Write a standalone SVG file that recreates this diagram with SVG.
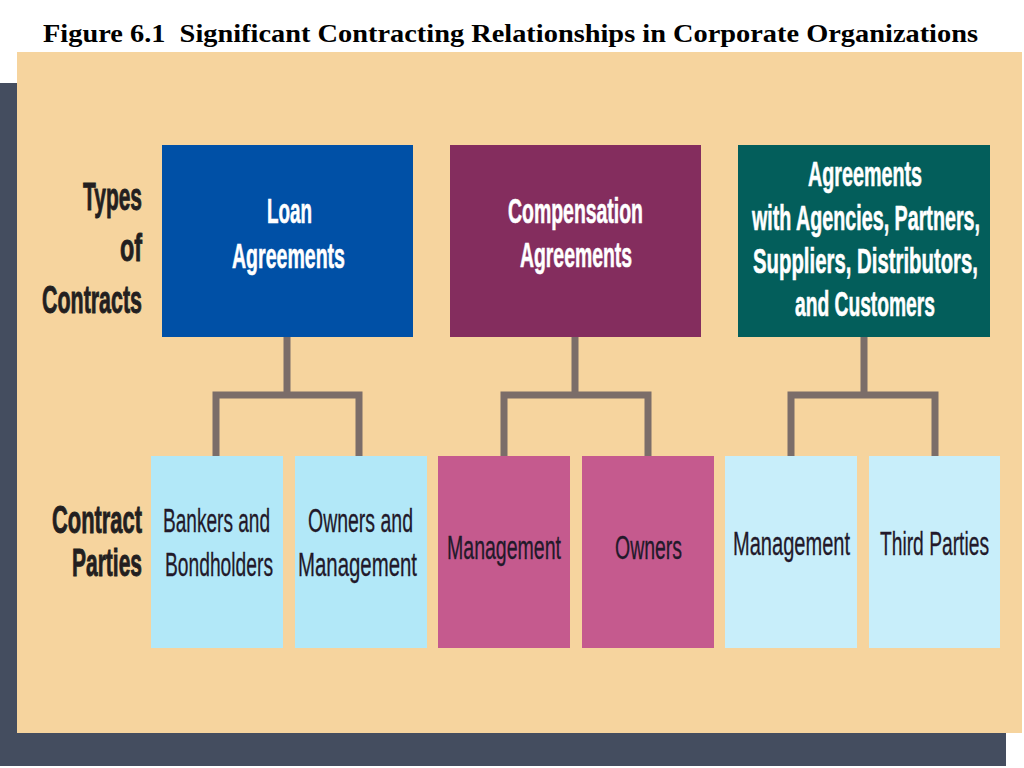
<svg xmlns="http://www.w3.org/2000/svg" width="1024" height="768" viewBox="0 0 1024 768">
<style>
.title{font-family:"Liberation Serif","Times New Roman",serif;font-weight:bold;font-size:26px;fill:#000;white-space:pre}
.side{font-family:"Liberation Sans",Arial,sans-serif;font-weight:bold;font-size:38px;fill:#231f20;stroke:#231f20;stroke-width:0.9}
.top{font-family:"Liberation Sans",Arial,sans-serif;font-weight:bold;font-size:35px;fill:#ffffff;stroke:#ffffff;stroke-width:0.6}
.bot{font-family:"Liberation Sans",Arial,sans-serif;font-size:34px;fill:#22192a;stroke:#22192a;stroke-width:0.3}
.conn{fill:none;stroke:#7b6d69;stroke-width:7;stroke-linejoin:miter;stroke-linecap:butt}
</style>
<rect width="1024" height="768" fill="#ffffff"/>
<text class="title" x="43" y="42" textLength="935" lengthAdjust="spacingAndGlyphs" xml:space="preserve">Figure 6.1  Significant Contracting Relationships in Corporate Organizations</text>
<rect id="shadow" x="0" y="83" width="1006" height="683" fill="#444d5f"/>
<rect id="panel" x="17" y="52" width="1005" height="681" fill="#f6d49e"/>
<g id="side-labels">
<text class="side" x="83" y="210" textLength="59" lengthAdjust="spacingAndGlyphs">Types</text>
<text class="side" x="120" y="261" textLength="22" lengthAdjust="spacingAndGlyphs">of</text>
<text class="side" x="42" y="313" textLength="100" lengthAdjust="spacingAndGlyphs">Contracts</text>
<text class="side" x="52" y="533" textLength="90" lengthAdjust="spacingAndGlyphs">Contract</text>
<text class="side" x="72" y="576" textLength="70" lengthAdjust="spacingAndGlyphs">Parties</text>
</g>
<g id="connectors">
<path class="conn" d="M287,337 V395 M216,456 V395 H359 V456"/>
<path class="conn" d="M575,337 V395 M504,456 V395 H648 V456"/>
<path class="conn" d="M864,337 V395 M791,456 V395 H935 V456"/>
</g>
<g id="loan">
<rect x="162" y="145" width="251" height="192" fill="#0050a6"/>
<text class="top" x="267" y="223" textLength="45" lengthAdjust="spacingAndGlyphs">Loan</text>
<text class="top" x="232" y="268" textLength="113" lengthAdjust="spacingAndGlyphs">Agreements</text>
</g>
<g id="compensation">
<rect x="450" y="145" width="251" height="192" fill="#842d5e"/>
<text class="top" x="508" y="223" textLength="135" lengthAdjust="spacingAndGlyphs">Compensation</text>
<text class="top" x="520" y="267" textLength="112" lengthAdjust="spacingAndGlyphs">Agreements</text>
</g>
<g id="agencies">
<rect x="738" y="145" width="252" height="192" fill="#035e5b"/>
<text class="top" x="808" y="186" textLength="114" lengthAdjust="spacingAndGlyphs">Agreements</text>
<text class="top" x="752" y="230" textLength="228" lengthAdjust="spacingAndGlyphs">with Agencies, Partners,</text>
<text class="top" x="753" y="273" textLength="225" lengthAdjust="spacingAndGlyphs">Suppliers, Distributors,</text>
<text class="top" x="795" y="316" textLength="140" lengthAdjust="spacingAndGlyphs">and Customers</text>
</g>
<g id="bankers">
<rect x="151" y="456" width="132" height="192" fill="#b2e8f8"/>
<text class="bot" x="163" y="532" textLength="107" lengthAdjust="spacingAndGlyphs">Bankers and</text>
<text class="bot" x="165" y="576" textLength="108" lengthAdjust="spacingAndGlyphs">Bondholders</text>
</g>
<g id="owners-mgmt">
<rect x="295" y="456" width="132" height="192" fill="#b2e8f8"/>
<text class="bot" x="308" y="532" textLength="105" lengthAdjust="spacingAndGlyphs">Owners and</text>
<text class="bot" x="298" y="576" textLength="119" lengthAdjust="spacingAndGlyphs">Management</text>
</g>
<g id="comp-management">
<rect x="438" y="456" width="132" height="192" fill="#c55a8e"/>
<text class="bot" x="447" y="559" textLength="114" lengthAdjust="spacingAndGlyphs">Management</text>
</g>
<g id="comp-owners">
<rect x="582" y="456" width="132" height="192" fill="#c55a8e"/>
<text class="bot" x="615" y="559" textLength="67" lengthAdjust="spacingAndGlyphs">Owners</text>
</g>
<g id="agency-management">
<rect x="725" y="456" width="132" height="192" fill="#c8eefa"/>
<text class="bot" x="733" y="555" textLength="117" lengthAdjust="spacingAndGlyphs">Management</text>
</g>
<g id="third-parties">
<rect x="869" y="456" width="131" height="192" fill="#c8eefa"/>
<text class="bot" x="880" y="555" textLength="109" lengthAdjust="spacingAndGlyphs">Third Parties</text>
</g>
</svg>
